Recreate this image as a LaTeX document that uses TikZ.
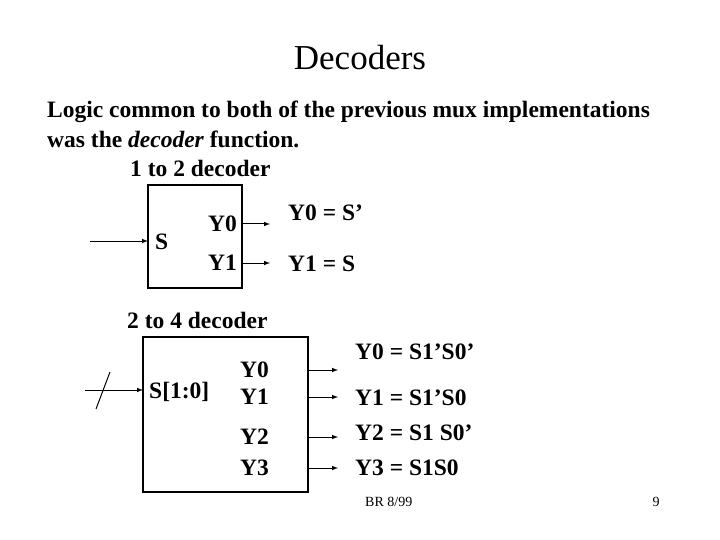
\documentclass[tikz,border=0pt]{standalone}
\usepackage{fontspec}
\setmainfont{Liberation Serif}
\begin{document}
\begin{tikzpicture}[x=1pt,y=-1pt,
  txt/.style={font=\bfseries\fontsize{23.5}{26}\selectfont,inner sep=0pt},
  box/.style={draw,line width=2.5pt},
  ar/.style={-latex,line width=1pt}]
\useasboundingbox (0,0) rectangle (720,540);
\node[inner sep=0pt,font=\fontsize{35}{38}\selectfont] (title) at (360,58) {Decoders};
\node[txt,anchor=west] (l1) at (47,112) {Logic common to both of the previous mux implementations};
\node[txt,anchor=west] (l2) at (47,139) {was the \textit{decoder} function.};
\node[txt,anchor=west] (l3) at (130,168) {1 to 2 decoder};
% box 1
\draw[box] (148,185) rectangle (242,288);
\coordinate (in1) at (90,241);
\coordinate (b1in) at (148,241);
\draw[ar] (in1) -- (b1in);
\node[txt,anchor=west] (s) at (155,242) {S};
\node[txt,anchor=east] (y0a) at (237,224) {Y0};
\node[txt,anchor=east] (y1a) at (237,263) {Y1};
\coordinate (o0s) at (242,224); \coordinate (o0e) at (270,224);
\coordinate (o1s) at (242,263); \coordinate (o1e) at (270,263);
\draw[ar] (o0s) -- (o0e);
\draw[ar] (o1s) -- (o1e);
\node[txt,anchor=west] (e0) at (288,213) {Y0 = S’};
\node[txt,anchor=west] (e1) at (288,264) {Y1 = S};
\node[txt,anchor=west] (l4) at (127,320) {2 to 4 decoder};
% box 2
\draw[box] (143,337) rectangle (308,492);
\coordinate (in2) at (85,390);
\coordinate (b2in) at (143,390);
\draw[ar] (in2) -- (b2in);
\coordinate (sl1) at (96,409); \coordinate (sl2) at (110,372);
\draw[line width=1pt] (sl1) -- (sl2);
\node[txt,anchor=west] (s10) at (149,392) {S[1:0]};
\foreach \n/\y in {0/370,1/397,2/437,3/468}{
  \node[txt,anchor=west] (yy\n) at (240,\y) {Y\n};
  \coordinate (os\n) at (308,\y); \coordinate (oe\n) at (338,\y);
  \draw[ar] (os\n) -- (oe\n);
}
\node[txt,anchor=west] (f0) at (355,352) {Y0 = S1’S0’};
\node[txt,anchor=west] (f1) at (355,398) {Y1 = S1’S0};
\node[txt,anchor=west] (f2) at (355,433) {Y2 = S1 S0’};
\node[txt,anchor=west] (f3) at (355,468) {Y3 = S1S0};
\node[inner sep=0pt,font=\fontsize{14}{16}\selectfont,anchor=west] (ft) at (365,502) {BR 8/99};
\node[inner sep=0pt,font=\fontsize{14}{16}\selectfont] (pg) at (656,502) {9};
\end{tikzpicture}
\end{document}
